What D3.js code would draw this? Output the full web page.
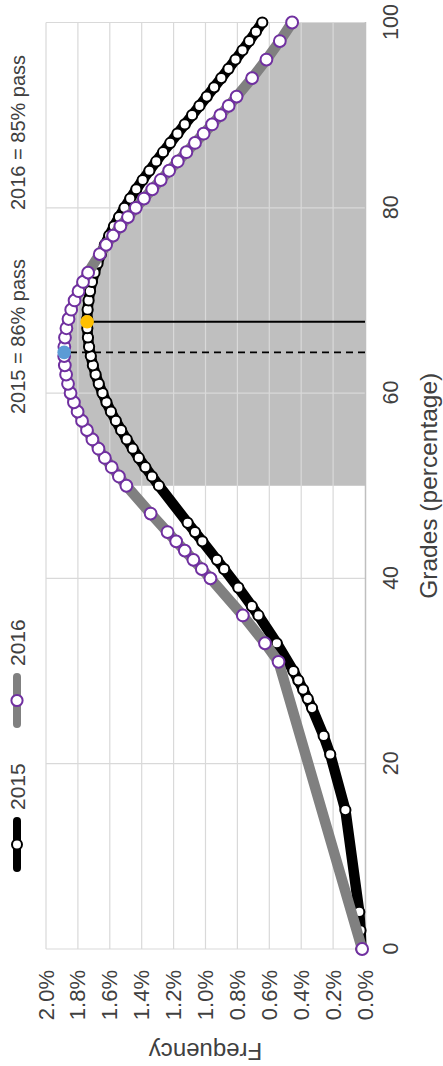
<!DOCTYPE html>
<html>
<head>
<meta charset="utf-8">
<title></title>
<script src="https://d3js.org/d3.v7.min.js"></script>
<style>
  body { margin: 0; background: #fff; }
  svg { display: block; font-family: "Liberation Sans", Arial, sans-serif; }
</style>
</head>
<body>
<svg width="443" height="1066"></svg>
<script>
// grades where students scored, and the normal-curve frequency (%) at each
var grades2015 = [0, 2, 4, 15, 21, 23, 26, 27, 28, 29, 30, 33, 36, 37, 39, 41, 42, 44, 45, 46,
  50, 51, 52, 53, 54, 55, 56, 57, 58, 59, 60, 61, 62, 63, 64, 65, 66, 67, 68, 69, 70,
  71, 72, 73, 74, 75, 76, 77, 78, 79, 80, 81, 82, 83, 84, 85, 86, 87, 88, 89, 90,
  91, 92, 93, 94, 95, 96, 97, 98, 99, 100];
var freq2015 = [0.022, 0.028, 0.036, 0.123, 0.218, 0.259, 0.332, 0.359, 0.388, 0.418, 0.449, 0.553, 0.668, 0.709, 0.794, 0.883, 0.928, 1.020, 1.066, 1.112,
  1.292, 1.335, 1.377, 1.418, 1.456, 1.494, 1.529, 1.562, 1.593, 1.621, 1.646, 1.669, 1.689, 1.706, 1.719, 1.730, 1.737, 1.741, 1.742, 1.739, 1.733,
  1.724, 1.712, 1.696, 1.677, 1.656, 1.631, 1.604, 1.574, 1.542, 1.508, 1.472, 1.434, 1.394, 1.352, 1.309, 1.266, 1.221, 1.176, 1.130, 1.084,
  1.038, 0.992, 0.946, 0.901, 0.856, 0.812, 0.768, 0.726, 0.684, 0.644];

var grades2016 = [0, 31, 33, 36, 40, 41, 42, 43, 44, 45, 47,
  50, 51, 52, 53, 54, 55, 56, 57, 58, 59, 60, 61, 62, 63, 64, 65, 66, 67, 68, 69, 70,
  71, 72, 73, 75, 76, 77, 78, 79, 80, 81, 82, 83, 84, 85, 86, 87, 88, 89, 90,
  91, 92, 94, 96, 98, 100];
var freq2016 = [0.018, 0.542, 0.627, 0.766, 0.969, 1.023, 1.076, 1.130, 1.184, 1.238, 1.344,
  1.496, 1.543, 1.588, 1.631, 1.671, 1.709, 1.743, 1.774, 1.802, 1.825, 1.846, 1.862, 1.874, 1.882, 1.886, 1.885, 1.881, 1.872, 1.859, 1.842, 1.821,
  1.796, 1.768, 1.736, 1.663, 1.623, 1.579, 1.534, 1.486, 1.437, 1.386, 1.334, 1.281, 1.228, 1.174, 1.120, 1.066, 1.012, 0.959, 0.907,
  0.855, 0.805, 0.708, 0.618, 0.534, 0.457];

var meanGrades = [67.7, 64.4];   // 2015, 2016
var meanFreqs = [1.742, 1.886];
var passCutoff = 50;

var gradeTicks = [0, 20, 40, 60, 80, 100];
var freqTicks = [0, 0.2, 0.4, 0.6, 0.8, 1.0, 1.2, 1.4, 1.6, 1.8, 2.0];
var seriesNames = ["2015", "2016"];
var passLabels = ["2015 = 86% pass", "2016 = 85% pass"];

var svg = d3.select("svg");
var W = 1066;
// chart is laid out landscape then turned a quarter turn anticlockwise
var g = svg.append("g").attr("transform", "translate(0," + W + ") rotate(-90)");

var x = d3.scaleLinear().domain([0, 100]).range([117, 1043.5]);
var y = d3.scaleLinear().domain([0, 2.0]).range([365, 46]);

var d15 = grades2015.map(function(d, i) { return {g: d, f: freq2015[i]}; });
var d16 = grades2016.map(function(d, i) { return {g: d, f: freq2016[i]}; });

// pass area under 2016 curve
var area = d3.area()
  .x(function(d) { return x(d.g); })
  .y0(y(0))
  .y1(function(d) { return y(d.f); });
g.append("path")
  .datum(d16.filter(function(d) { return d.g >= passCutoff; }))
  .attr("fill", "#bfbfbf")
  .attr("d", area);

// gridlines
g.append("g")
  .selectAll("line")
  .data(gradeTicks)
  .enter().append("line")
  .attr("x1", function(d) { return x(d); })
  .attr("x2", function(d) { return x(d); })
  .attr("y1", y(0)).attr("y2", y(2.0))
  .attr("stroke", "#d9d9d9").attr("stroke-width", 1.2);
g.append("g")
  .selectAll("line")
  .data(freqTicks.slice(1))
  .enter().append("line")
  .attr("x1", x(0)).attr("x2", x(100))
  .attr("y1", function(d) { return y(d); })
  .attr("y2", function(d) { return y(d); })
  .attr("stroke", "#d9d9d9").attr("stroke-width", 1.2);

// axes
var xAxis = d3.axisBottom(x).tickValues(gradeTicks).tickSize(0).tickPadding(18).tickFormat(d3.format("d"));
var gx = g.append("g").attr("transform", "translate(0," + y(0) + ")").call(xAxis);
gx.select(".domain").attr("stroke", "#bfbfbf").attr("stroke-width", 1.5);
gx.selectAll("text").attr("font-size", 21.5).attr("fill", "#404040").style("font-family", "Liberation Sans, Arial, sans-serif");

var yAxis = d3.axisLeft(y).tickValues(freqTicks).tickSize(0).tickPadding(21).tickFormat(function(d) { return d.toFixed(1) + "%"; });
var gy = g.append("g").attr("transform", "translate(" + x(0) + ",0)").call(yAxis);
gy.select(".domain").remove();
gy.selectAll("text").attr("font-size", 22).attr("fill", "#404040").style("font-family", "Liberation Sans, Arial, sans-serif");

// series
var line = d3.line()
  .x(function(d) { return x(d.g); })
  .y(function(d) { return y(d.f); });

g.append("path").datum(d15)
  .attr("fill", "none").attr("stroke", "#000").attr("stroke-width", 10.5)
  .attr("stroke-linejoin", "round").attr("stroke-linecap", "round")
  .attr("d", line);
g.append("g").selectAll("circle").data(d15).enter().append("circle")
  .attr("cx", function(d) { return x(d.g); })
  .attr("cy", function(d) { return y(d.f); })
  .attr("r", 5.1)
  .attr("fill", "#fff").attr("stroke", "#000").attr("stroke-width", 2);

g.append("path").datum(d16)
  .attr("fill", "none").attr("stroke", "#808080").attr("stroke-width", 10.5)
  .attr("stroke-linejoin", "round").attr("stroke-linecap", "round")
  .attr("d", line);
g.append("g").selectAll("circle").data(d16).enter().append("circle")
  .attr("cx", function(d) { return x(d.g); })
  .attr("cy", function(d) { return y(d.f); })
  .attr("r", 5.9)
  .attr("fill", "#fff").attr("stroke", "#7030a0").attr("stroke-width", 2);

// mean lines + markers
var meanColors = ["#ffc000", "#5b9bd5"];
var meanDash = [null, "7,5"];
meanGrades.forEach(function(m, i) {
  g.append("line")
    .attr("x1", x(m)).attr("x2", x(m))
    .attr("y1", y(0)).attr("y2", y(meanFreqs[i]))
    .attr("stroke", "#000").attr("stroke-width", 1.8)
    .attr("stroke-dasharray", meanDash[i]);
});
meanGrades.forEach(function(m, i) {
  g.append("circle")
    .attr("cx", x(m)).attr("cy", y(meanFreqs[i]))
    .attr("r", 6.8).attr("fill", meanColors[i]);
});

// axis titles
g.append("text")
  .attr("x", (x(0) + x(100)) / 2).attr("y", 437)
  .attr("text-anchor", "middle").attr("font-size", 24.5).attr("fill", "#404040")
  .text("Grades (percentage)");
g.append("text")
  .attr("transform", "translate(23," + ((y(0) + y(2.0)) / 2) + ") rotate(-90)")
  .attr("text-anchor", "middle").attr("font-size", 24).attr("fill", "#404040")
  .text("Frequency");

// legend
var legendX = [198, 342];
var legendColors = ["#000", "#808080"];
var markerStroke = ["#000", "#7030a0"];
seriesNames.forEach(function(name, i) {
  var lg = g.append("g").attr("transform", "translate(" + legendX[i] + ",17)");
  lg.append("line").attr("x1", 0).attr("x2", 47).attr("y1", 0).attr("y2", 0)
    .attr("stroke", legendColors[i]).attr("stroke-width", 8).attr("stroke-linecap", "round");
  lg.append("circle").attr("cx", 23.5).attr("cy", 0).attr("r", i ? 5.6 : 5)
    .attr("fill", "#fff").attr("stroke", markerStroke[i]).attr("stroke-width", 2);
  lg.append("text").attr("x", 58).attr("y", 8).attr("font-size", 21).attr("fill", "#404040").text(name);
});

// pass annotations
var passX = [652, 856];
passLabels.forEach(function(t, i) {
  g.append("text").attr("x", passX[i]).attr("y", 25)
    .attr("font-size", 20).attr("fill", "#404040").text(t);
});
</script>
</body>
</html>
